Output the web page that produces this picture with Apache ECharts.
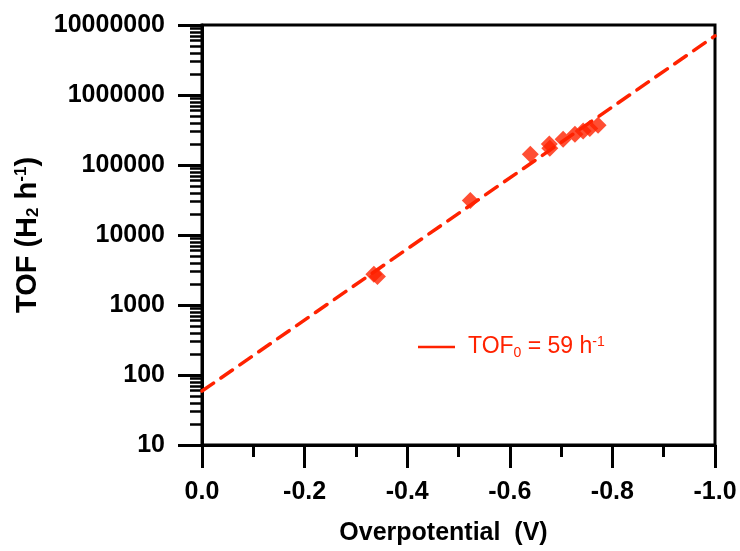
<!DOCTYPE html>
<html>
<head>
<meta charset="utf-8">
<script src="https://cdn.jsdelivr.net/npm/echarts@6/dist/echarts.min.js"></script>
<style>
  html, body { margin: 0; padding: 0; background: #fff; }
  #chart { width: 740px; height: 551px; }
</style>
</head>
<body>
<div id="chart"></div>
<script>
// Measured turnover frequencies vs. overpotential
const overpotential = [-0.335, -0.342, -0.523, -0.640, -0.677, -0.678, -0.704, -0.727, -0.743, -0.756, -0.772];
const tof = [2750, 2550, 31200, 143000, 199000, 173000, 234000, 275000, 307000, 332000, 369000];

// Tafel fit: intercept TOF0 at zero overpotential and value at -1.0 V
const TOF0 = 59;
const fitEta = [0, -1.0];
const fitTof = [TOF0, 7.0e6];

// Axis ticks
const xTicks = [0, -0.2, -0.4, -0.6, -0.8, -1.0];
const yDecades = [10, 100, 1000, 10000, 100000, 1000000, 10000000];
const yMinorMultiples = [2, 3, 4, 5, 6, 7, 8, 9];

const yMinorTicks = [];
yDecades.slice(0, -1).forEach(d => yMinorMultiples.forEach(m => yMinorTicks.push(d * m)));

const RED = '#ff2200';
const FONT = "'Liberation Sans', Arial, sans-serif";

const chart = echarts.init(document.getElementById('chart'), null, { renderer: 'canvas' });

chart.setOption({
  animation: false,
  backgroundColor: '#fff',
  grid: {
    left: 202, right: 25, top: 25, bottom: 103,
    show: true, borderColor: '#000', borderWidth: 3, backgroundColor: 'transparent'
  },
  legend: {
    left: 418, top: 335,
    padding: 0,
    itemWidth: 37, itemHeight: 2.5,
    icon: 'rect',
    itemStyle: { color: RED, borderWidth: 0 },
    data: ['fit'],
    formatter: () => 'TOF{sub|0} = ' + TOF0 + ' h{sup|-1}',
    textStyle: {
      color: RED, fontFamily: FONT, fontSize: 23, padding: [0, 0, 0, 8],
      rich: {
        sub: { color: RED, fontFamily: FONT, fontSize: 14, padding: [12, 0, 0, 0] },
        sup: { color: RED, fontFamily: FONT, fontSize: 14, padding: [0, 0, 10, 0] }
      }
    }
  },
  xAxis: {
    type: 'value',
    min: -1.0, max: 0, interval: 0.2,
    inverse: true,
    name: 'Overpotential  (V)',
    nameLocation: 'middle',
    nameGap: 76,
    nameTextStyle: { fontFamily: FONT, fontSize: 25, fontWeight: 'bold', color: '#000', padding: [0, 30, 0, 0] },
    axisLine: { show: true, onZero: false, lineStyle: { color: '#000', width: 3 } },
    axisTick: { show: true, inside: false, length: 23, lineStyle: { color: '#000', width: 3 } },
    minorTick: { show: true, splitNumber: 2, length: 12, lineStyle: { color: '#000', width: 3 } },
    axisLabel: {
      margin: 35,
      fontFamily: FONT, fontSize: 25, fontWeight: 'bold', color: '#000',
      formatter: v => (Math.abs(v) < 1e-9 ? 0 : v).toFixed(1),
      customValues: xTicks
    },
    splitLine: { show: false }
  },
  yAxis: [
    {
      type: 'log',
      min: 10, max: 1e7,
      position: 'left',
      name: 'TOF (H{sub|2} h{sup|-1})',
      nameLocation: 'middle',
      nameGap: 160,
      nameTextStyle: {
        fontFamily: FONT, fontSize: 29, fontWeight: 'bold', color: '#000',
        rich: {
          sub: { fontFamily: FONT, fontSize: 17, fontWeight: 'bold', color: '#000', padding: [12, 0, 0, 0] },
          sup: { fontFamily: FONT, fontSize: 17, fontWeight: 'bold', color: '#000', padding: [0, 0, 12, 0] }
        }
      },
      axisLine: { show: true, lineStyle: { color: '#000', width: 3 } },
      axisTick: { show: true, inside: false, length: 24, lineStyle: { color: '#000', width: 3 } },
      axisLabel: {
        margin: 37,
        fontFamily: FONT, fontSize: 25, fontWeight: 'bold', color: '#000',
        formatter: v => String(Math.round(v))
      },
      splitLine: { show: false }
    },
    {
      type: 'log',
      min: 10, max: 1e7,
      position: 'left',
      axisLine: { show: false },
      axisTick: { show: true, inside: false, length: 12, lineStyle: { color: '#000', width: 2.5 }, customValues: yMinorTicks },
      axisLabel: { show: false },
      splitLine: { show: false }
    }
  ],
  series: [
    {
      name: 'fit',
      type: 'line',
      yAxisIndex: 0,
      data: fitEta.map((e, i) => [e, fitTof[i]]),
      showSymbol: false,
      symbol: 'none',
      lineStyle: { color: RED, width: 3.5, type: [14, 9], cap: 'round' },
      itemStyle: { color: RED },
      z: 2
    },
    {
      name: 'data',
      type: 'scatter',
      yAxisIndex: 0,
      data: overpotential.map((e, i) => [e, tof[i]]),
      symbol: 'diamond',
      symbolSize: 17,
      itemStyle: { color: RED },
      z: 3
    }
  ]
});
</script>
</body>
</html>
